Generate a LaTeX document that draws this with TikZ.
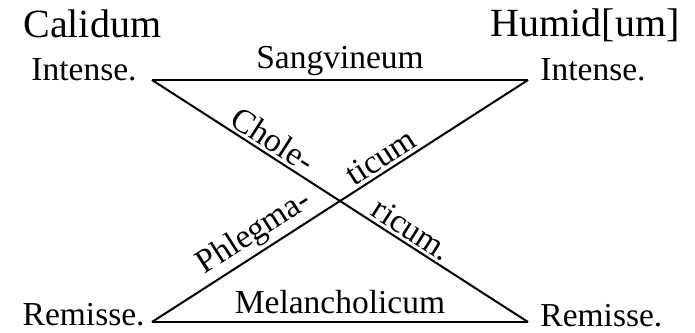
\documentclass[tikz,border=0pt]{standalone}
\usepackage{fontspec}
\setmainfont{Liberation Serif}
\usetikzlibrary{positioning}

\begin{document}
\begin{tikzpicture}[
        x=0.5pt, y=-0.5pt,
        quality/.style={font=\fontsize{20}{24}\selectfont, inner sep=0pt},
        degree/.style={font=\fontsize{16.75}{20}\selectfont, inner sep=0pt},
        humour/.style={font=\fontsize{16.75}{20}\selectfont, inner sep=0pt},
        edge/.style={line width=1pt}
    ]
        \useasboundingbox (0,0) rectangle (695,332);

        % Corners of the figure
        \coordinate (tl) at (152,80);
        \coordinate (tr) at (528,80);
        \coordinate (bl) at (152,322);
        \coordinate (br) at (528,322);

        % Qualities
        \node[quality, anchor=base west] (calidum) at (23,37) {Calidum};
        \node[quality, anchor=base east] (humidum) at (680,36) {Humid[um]};

        % Degrees
        \node[degree, anchor=base east] (intL) at (137,80) {Intense.};
        \node[degree, anchor=base west] (intR) at (540,80) {Intense.};
        \node[degree, anchor=base east] (remL) at (145,325) {Remisse.};
        \node[degree, anchor=base west] (remR) at (540,326) {Remisse.};

        % Humours
        \draw[edge] (tl) -- node[humour, midway, anchor=base, yshift=6pt] (sangv) {Sangvineum} (tr);
        \draw[edge] (bl) -- node[humour, midway, anchor=base, yshift=4.5pt] (melan) {Melancholicum} (br);
        \draw[edge] (tl) -- node[humour, pos=0.3, sloped, above=1.5pt] (chole) {Chole-}
                          node[humour, pos=0.67, sloped, above=1.5pt] (ricum) {ricum.} (br);
        \draw[edge] (bl) -- node[humour, pos=0.3, sloped, above=1.5pt] (phleg) {Phlegma-}
                          node[humour, pos=0.63, sloped, above=1.5pt] (ticum) {ticum} (tr);

    \end{tikzpicture}
\end{document}
